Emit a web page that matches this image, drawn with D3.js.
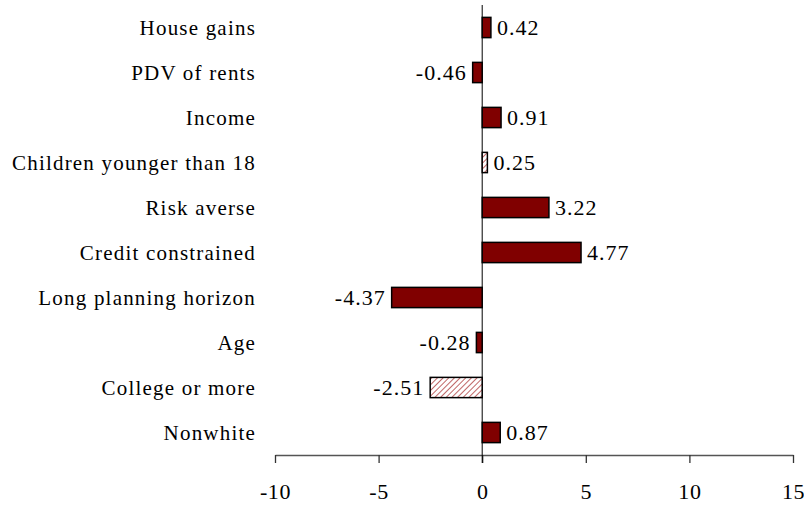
<!DOCTYPE html>
<html>
<head>
<meta charset="utf-8">
<script src="https://cdn.jsdelivr.net/npm/d3@7"></script>
<style>
  body { margin: 0; background: #fff; }
  text { font-family: "Liberation Serif", "Times New Roman", serif; fill: #000; }
</style>
</head>
<body>
<div id="chart"></div>
<script>
var categories = ["House gains", "PDV of rents", "Income", "Children younger than 18",
  "Risk averse", "Credit constrained", "Long planning horizon", "Age",
  "College or more", "Nonwhite"];
var values = [0.42, -0.46, 0.91, 0.25, 3.22, 4.77, -4.37, -0.28, -2.51, 0.87];
var hatched = [false, false, false, true, false, false, false, false, true, false];
var xTicks = [-10, -5, 0, 5, 10, 15];

var width = 804, height = 506;

var svg = d3.select("#chart").append("svg")
    .attr("width", width)
    .attr("height", height);

// diagonal hatch for the insignificant ones
var defs = svg.append("defs");
defs.append("pattern")
    .attr("id", "hatch")
    .attr("patternUnits", "userSpaceOnUse")
    .attr("width", 4)
    .attr("height", 4)
    .attr("patternTransform", "rotate(45)")
  .call(function (p) {
    p.append("rect").attr("width", 4).attr("height", 4).attr("fill", "#fff");
    p.append("line").attr("x1", 0).attr("y1", 0).attr("x2", 0).attr("y2", 4)
      .attr("stroke", "#b04040").attr("stroke-width", 1.6);
  });

var x = d3.scaleLinear().domain([-10, 15]).range([275, 793]);
var y = d3.scaleBand().domain(categories).range([5, 455]).paddingInner(0.55).paddingOuter(0.275);

// axis
var axis = svg.append("g")
    .attr("transform", "translate(0,455)")
    .call(d3.axisBottom(x).tickValues(xTicks).tickFormat(function (d) { return String(d); })
      .tickSize(8).tickSizeOuter(0).tickPadding(20));
axis.select(".domain").attr("stroke", "#555").attr("stroke-width", 1.3);
axis.selectAll(".tick line").attr("stroke", "#333").attr("stroke-width", 1.3);
axis.selectAll(".tick text").attr("font-size", 22).attr("font-family", "Liberation Serif, serif")
    .attr("fill", "#000").attr("letter-spacing", 0.6);

// zero line
svg.append("line")
    .attr("x1", x(0)).attr("x2", x(0))
    .attr("y1", 5).attr("y2", 463)
    .attr("stroke", "#000").attr("stroke-width", 1);

// bars
svg.selectAll("rect.bar")
    .data(values)
  .enter().append("rect")
    .attr("class", "bar")
    .attr("x", function (d) { return x(Math.min(0, d)); })
    .attr("y", function (d, i) { return y(categories[i]); })
    .attr("width", function (d) { return Math.abs(x(d) - x(0)); })
    .attr("height", y.bandwidth())
    .attr("fill", function (d, i) { return hatched[i] ? "url(#hatch)" : "#800000"; })
    .attr("stroke", "#000")
    .attr("stroke-width", 1.5);

// value labels
svg.selectAll("text.val")
    .data(values)
  .enter().append("text")
    .attr("class", "val")
    .attr("x", function (d) { return d < 0 ? x(d) - 6 : x(d) + 6; })
    .attr("y", function (d, i) { return y(categories[i]) + y.bandwidth() / 2; })
    .attr("dy", "0.35em")
    .attr("text-anchor", function (d) { return d < 0 ? "end" : "start"; })
    .attr("font-size", 22)
    .attr("letter-spacing", 1)
    .text(function (d) { return d.toFixed(2); });

// category labels
svg.selectAll("text.cat")
    .data(categories)
  .enter().append("text")
    .attr("class", "cat")
    .attr("x", 256)
    .attr("y", function (d) { return y(d) + y.bandwidth() / 2; })
    .attr("dy", "0.35em")
    .attr("text-anchor", "end")
    .attr("font-size", 21)
    .attr("letter-spacing", 1.2)
    .text(function (d) { return d; });
</script>
</body>
</html>
